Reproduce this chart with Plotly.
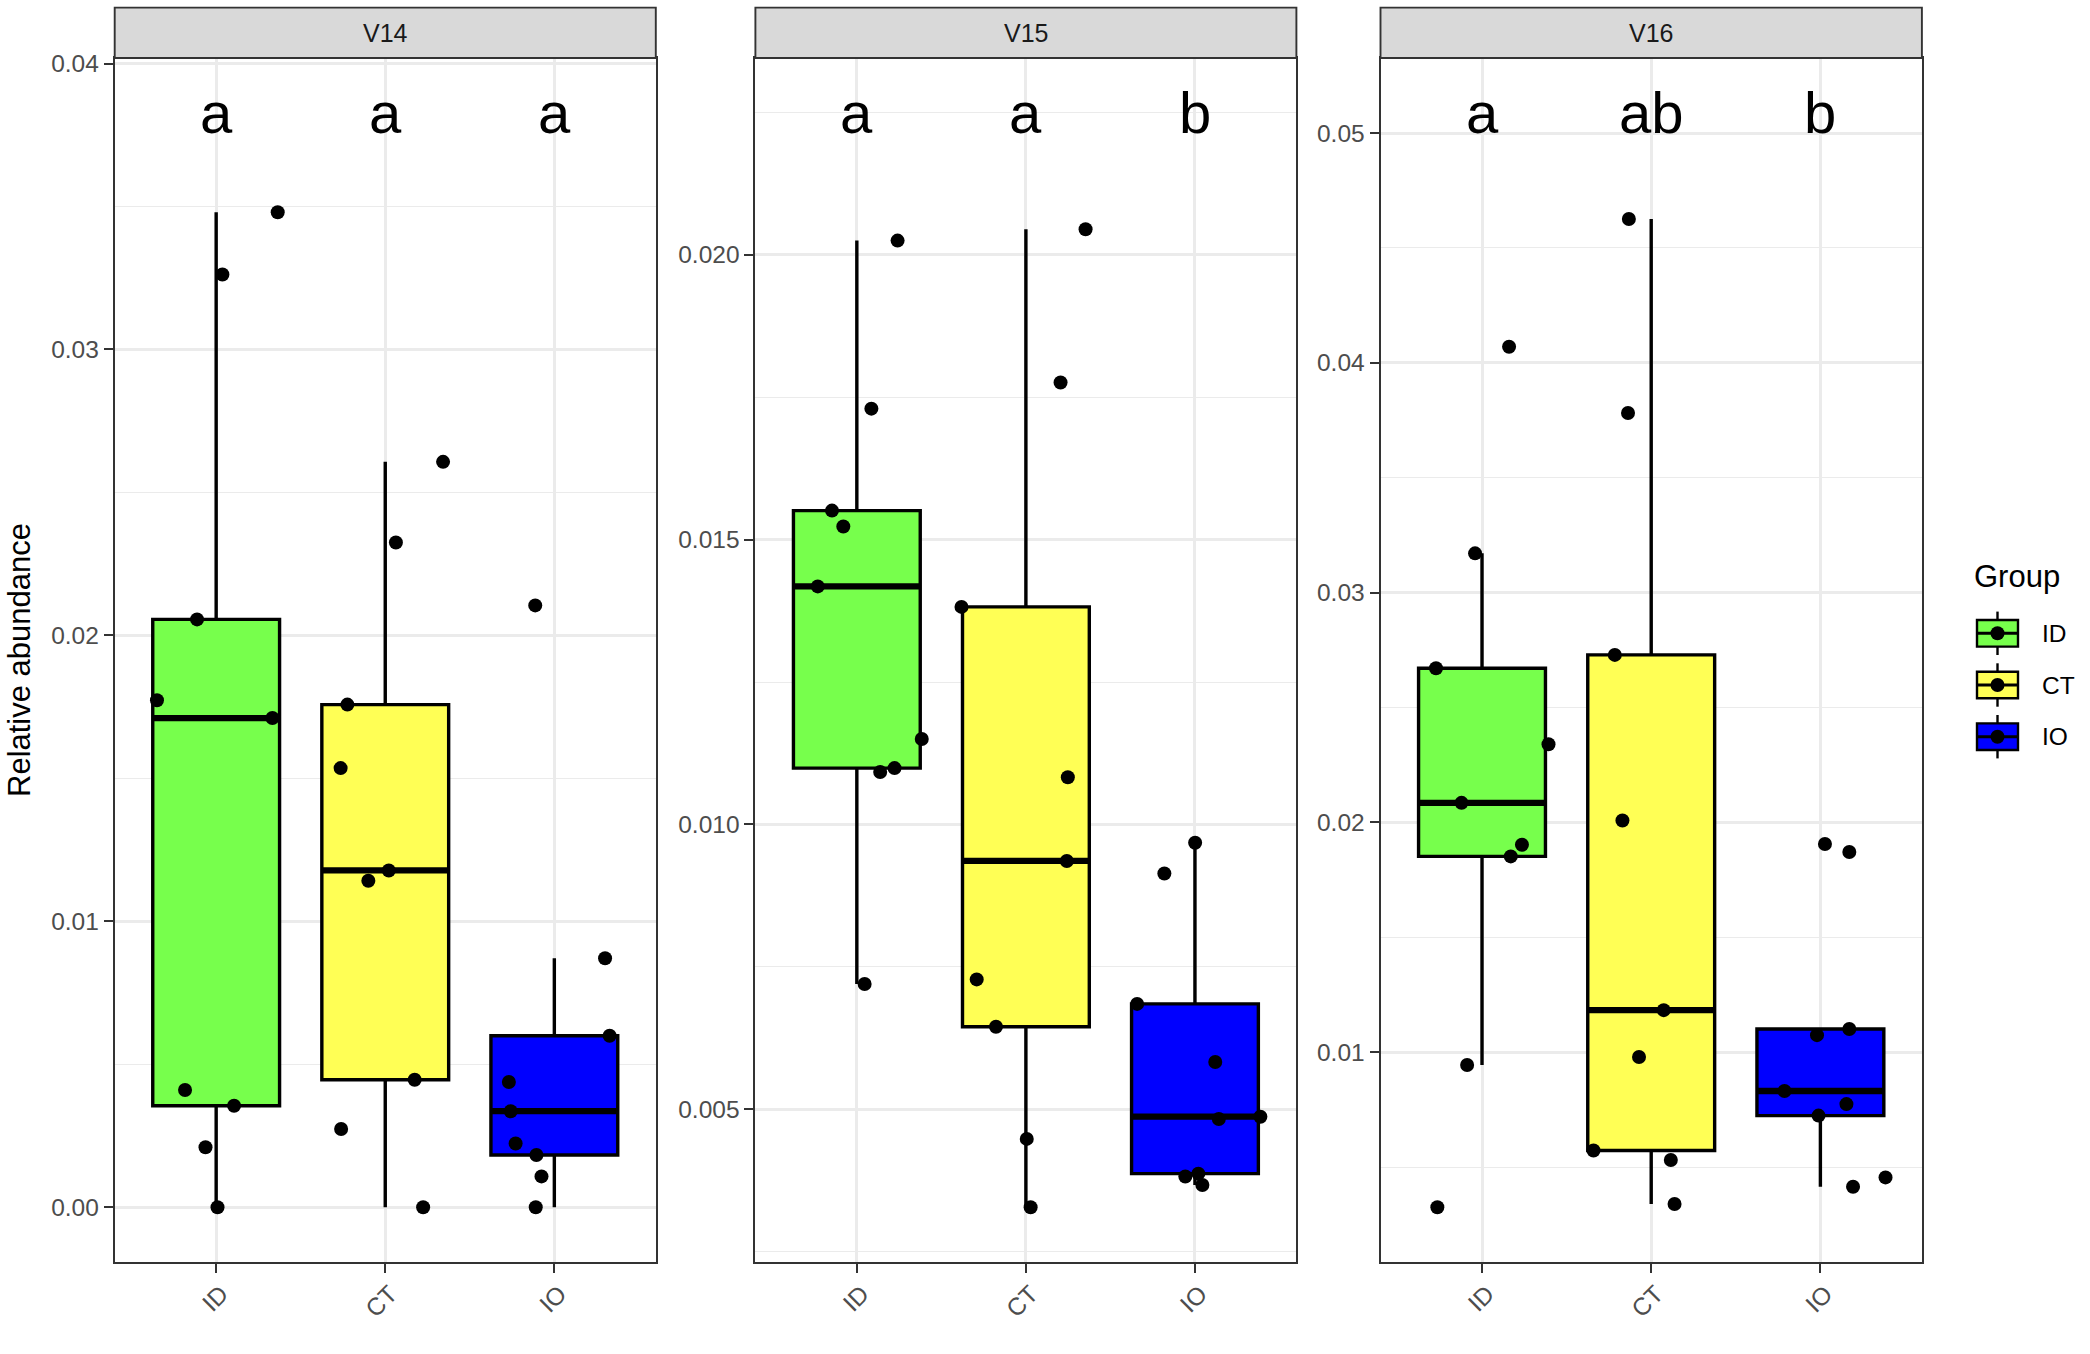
import numpy as np
import plotly.graph_objects as go

W, H = 2090, 1354
FONT = "Liberation Sans, Arial, Helvetica, sans-serif"

groups = ["ID", "CT", "IO"]
panels = ["V14", "V15", "V16"]
group_colors = ["#77FF4C", "#FFFF55", "#0000FF"]

# ---- data (relative abundance per sample) ----
v14_id = [0.0348, 0.03262, 0.02056, 0.01773, 0.01711, 0.0041, 0.00355, 0.0021, 0.0]
v14_ct = [0.02607, 0.02325, 0.01758, 0.01536, 0.01178, 0.01142, 0.00446, 0.00274, 0.0]
v14_io = [0.02105, 0.00871, 0.006, 0.00438, 0.00336, 0.00223, 0.00183, 0.00108, 0.0]

v15_id = [0.02025, 0.0173, 0.01551, 0.01523, 0.01418, 0.0115, 0.01099, 0.01092, 0.0072]
v15_ct = [0.02045, 0.01776, 0.01382, 0.01083, 0.00936, 0.00728, 0.00645, 0.00448, 0.00328]
v15_io = [0.00968, 0.00914, 0.00685, 0.00583, 0.00483, 0.00487, 0.00387, 0.00382, 0.00367]

v16_id = [0.0407, 0.03171, 0.02671, 0.0234, 0.02085, 0.01903, 0.01852, 0.00944, 0.00325]
v16_ct = [0.04626, 0.03782, 0.02729, 0.02008, 0.01183, 0.00979, 0.00572, 0.00531, 0.00339]
v16_io = [0.01906, 0.01871, 0.01101, 0.01074, 0.00831, 0.00774, 0.00724, 0.00455, 0.00414]

# horizontal jitter of each point (category units)
v14_id_jit = [0.364, 0.037, -0.113, -0.350, 0.333, -0.184, 0.106, -0.063, 0.008]
v14_ct_jit = [0.342, 0.063, -0.224, -0.264, 0.021, -0.100, 0.174, -0.261, 0.224]
v14_io_jit = [-0.113, 0.300, 0.327, -0.269, -0.258, -0.229, -0.106, -0.076, -0.110]
v15_id_jit = [0.241, 0.086, -0.147, -0.080, -0.231, 0.384, 0.223, 0.138, 0.046]
v15_ct_jit = [0.353, 0.205, -0.381, 0.248, 0.242, -0.291, -0.177, 0.005, 0.028]
v15_io_jit = [0.001, -0.181, -0.342, 0.120, 0.141, 0.387, 0.020, -0.057, 0.044]
v16_id_jit = [0.160, -0.041, -0.272, 0.393, -0.121, 0.236, 0.170, -0.088, -0.264]
v16_ct_jit = [-0.132, -0.137, -0.215, -0.170, 0.074, -0.072, -0.341, 0.116, 0.138]
v16_io_jit = [0.027, 0.171, 0.171, -0.020, -0.212, 0.154, -0.011, 0.385, 0.193]

v14_letters = ["a", "a", "a"]
v15_letters = ["a", "a", "b"]
v16_letters = ["a", "ab", "b"]

panel_values = [[v14_id, v14_ct, v14_io], [v15_id, v15_ct, v15_io], [v16_id, v16_ct, v16_io]]
panel_jitter = [[v14_id_jit, v14_ct_jit, v14_io_jit], [v15_id_jit, v15_ct_jit, v15_io_jit],
                [v16_id_jit, v16_ct_jit, v16_io_jit]]
panel_letters = [v14_letters, v15_letters, v16_letters]
panel_dtick = [0.01, 0.005, 0.01]
panel_fmt = [".2f", ".3f", ".2f"]

# ---- layout geometry (pixels) ----
panel_x_px = [(114.7, 655.8), (755.4, 1296.4), (1380.5, 1921.9)]
panel_top_px, panel_bot_px = 58.0, 1262.0
strip_top_px = 7.6
BOX_W = 0.75


def px_x(x):
    return x / W


def px_y(y):
    return 1 - y / H


def box_stats(v):
    a = np.sort(np.asarray(v, dtype=float))
    q1, med, q3 = np.percentile(a, [25, 50, 75])
    iqr = q3 - q1
    lo = a[a >= q1 - 1.5 * iqr].min()
    hi = a[a <= q3 + 1.5 * iqr].max()
    return q1, med, q3, lo, hi


fig = go.Figure()
annotations = []
shapes = []

for p, pname in enumerate(panels):
    xa = "x" if p == 0 else f"x{p+1}"
    ya = "y" if p == 0 else f"y{p+1}"
    allv = np.concatenate([np.asarray(v) for v in panel_values[p]])
    lab_y = 1.1 * allv.max()
    lo = allv.min()
    span = lab_y - lo
    yrange = [lo - 0.05 * span, lab_y + 0.05 * span]

    for g, gname in enumerate(groups):
        vals = panel_values[p][g]
        pos = g + 1
        q1, med, q3, lf, uf = box_stats(vals)
        fig.add_trace(go.Box(
            x=[pos], q1=[q1], median=[med], q3=[q3], lowerfence=[lf], upperfence=[uf],
            width=BOX_W, fillcolor=group_colors[g], whiskerwidth=0,
            line=dict(color="black", width=3.4), boxpoints=False,
            xaxis=xa, yaxis=ya, showlegend=False, hoverinfo="skip",
        ))
        # thicker median line (as in ggplot)
        fig.add_trace(go.Scatter(
            x=[pos - BOX_W / 2, pos + BOX_W / 2], y=[med, med], mode="lines",
            line=dict(color="black", width=6.3), xaxis=xa, yaxis=ya,
            showlegend=False, hoverinfo="skip",
        ))
    for g, gname in enumerate(groups):
        vals = panel_values[p][g]
        jit = panel_jitter[p][g]
        fig.add_trace(go.Scatter(
            x=[g + 1 + j for j in jit], y=vals, mode="markers",
            marker=dict(color="black", size=14, line=dict(width=0)),
            xaxis=xa, yaxis=ya, showlegend=False, hoverinfo="skip",
        ))
        annotations.append(dict(
            x=g + 1, y=lab_y, xref=xa, yref=ya, text=panel_letters[p][g],
            showarrow=False, font=dict(family=FONT, size=58, color="black"),
            xanchor="center", yanchor="middle",
        ))

    dom = [px_x(panel_x_px[p][0]), px_x(panel_x_px[p][1])]
    axis_common = dict(
        showline=True, mirror=True, linecolor="#333333", linewidth=1.9,
        ticks="outside", ticklen=9, tickwidth=2.2, tickcolor="#333333",
        tickfont=dict(family=FONT, size=24.5, color="#4D4D4D"),
        showgrid=True, gridcolor="#EBEBEB", gridwidth=2.6, zeroline=False,
        automargin=False,
    )
    fig.update_layout({
        ("xaxis" if p == 0 else f"xaxis{p+1}"): dict(
            domain=dom, range=[0.4, 3.6], tickvals=[1, 2, 3], ticktext=groups,
            tickangle=-45, anchor=ya, ticklabelshift=5, ticklabelstandoff=-3,
            **axis_common),
        ("yaxis" if p == 0 else f"yaxis{p+1}"): dict(
            domain=[px_y(panel_bot_px), px_y(panel_top_px)], range=yrange,
            dtick=panel_dtick[p], tick0=0, tickformat=panel_fmt[p], anchor=xa,
            minor=dict(dtick=panel_dtick[p] / 2, tick0=0, showgrid=True,
                       gridcolor="#EBEBEB", gridwidth=1.3, ticks=""),
            **axis_common),
    })
    # facet strip
    shapes.append(dict(type="rect", xref="paper", yref="paper",
                       x0=dom[0], x1=dom[1], y0=px_y(panel_top_px), y1=px_y(strip_top_px),
                       fillcolor="#D9D9D9", line=dict(color="#333333", width=1.9)))
    annotations.append(dict(
        x=(dom[0] + dom[1]) / 2, y=px_y((strip_top_px + panel_top_px) / 2),
        xref="paper", yref="paper", text=pname, showarrow=False,
        font=dict(family=FONT, size=25, color="#1A1A1A"),
        xanchor="center", yanchor="middle"))

# y axis title
annotations.append(dict(
    x=px_x(19), y=px_y(660), xref="paper", yref="paper", text="Relative abundance",
    textangle=-90, showarrow=False, font=dict(family=FONT, size=31, color="black"),
    xanchor="center", yanchor="middle"))

# legend (drawn manually to mimic ggplot boxplot keys)
annotations.append(dict(
    x=px_x(1972), y=px_y(577), xref="paper", yref="paper", text="Group",
    showarrow=False, font=dict(family=FONT, size=31, color="black"),
    xanchor="left", yanchor="middle"))
key_cx = 1997.5
for g, gname in enumerate(groups):
    cy = 633.3 + g * 51.7
    shapes.append(dict(type="line", xref="paper", yref="paper",
                       x0=px_x(key_cx), x1=px_x(key_cx), y0=px_y(cy - 21.7), y1=px_y(cy + 21.7),
                       line=dict(color="black", width=2.4)))
    shapes.append(dict(type="rect", xref="paper", yref="paper",
                       x0=px_x(1977), x1=px_x(2018), y0=px_y(cy + 13.3), y1=px_y(cy - 13.3),
                       fillcolor=group_colors[g], line=dict(color="black", width=2.4)))
    shapes.append(dict(type="line", xref="paper", yref="paper",
                       x0=px_x(1977), x1=px_x(2018), y0=px_y(cy), y1=px_y(cy),
                       line=dict(color="black", width=3)))
    shapes.append(dict(type="circle", xref="paper", yref="paper",
                       x0=px_x(key_cx - 7), x1=px_x(key_cx + 7),
                       y0=px_y(cy + 7), y1=px_y(cy - 7),
                       fillcolor="black", line=dict(color="black", width=0)))
    annotations.append(dict(
        x=px_x(2040), y=px_y(cy), xref="paper", yref="paper", text=gname,
        showarrow=False, font=dict(family=FONT, size=24.5, color="black"),
        xanchor="left", yanchor="middle"))

fig.update_layout(
    width=W, height=H, autosize=False, margin=dict(l=0, r=0, t=0, b=0, pad=0),
    paper_bgcolor="white", plot_bgcolor="white",
    showlegend=False, boxmode="overlay",
    annotations=annotations, shapes=shapes,
    font=dict(family=FONT),
)

fig.write_html("out.html", config={"displayModeBar": False},
               post_script="document.body.style.margin='0';document.body.style.overflow='hidden';")
